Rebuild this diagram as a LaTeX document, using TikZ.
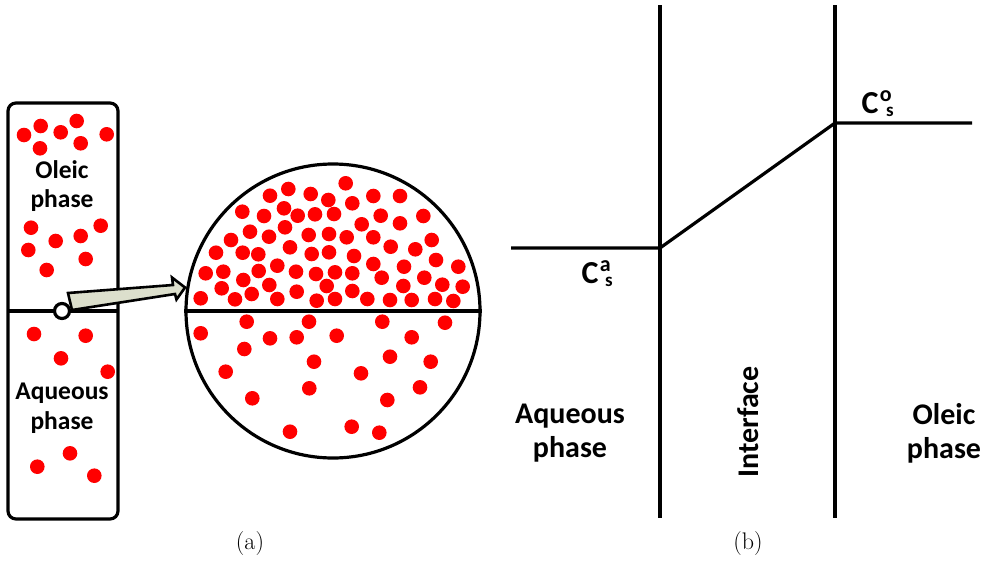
\documentclass[tikz,border=0pt]{standalone}
\usepackage{fontspec}
\setmainfont{Carlito}
\newfontfamily\capfont{Latin Modern Roman}
\usetikzlibrary{positioning}

\definecolor{arrowfill}{RGB}{220,223,204}

\newcommand{\conc}[1]{C\kern0.04em\raisebox{0.36em}{\fontsize{22}{22}\selectfont #1}\kern-0.17em\raisebox{-0.1em}{\fontsize{19}{19}\selectfont s}}

\tikzset{
	bead/.style={fill=red},
	phaselabel/.style={font=\bfseries\fontsize{30}{34}\selectfont, align=center, inner sep=0pt},
	conclabel/.style={font=\bfseries\fontsize{32}{34}\selectfont, inner sep=0pt},
	tubelabel/.style={font=\bfseries\fontsize{25.5}{29.5}\selectfont, align=center, inner sep=0pt},
	caption/.style={font=\capfont\fontsize{24}{26}\selectfont, inner sep=0pt}
}

\begin{document}
\begin{tikzpicture}[x=1pt, y=-1pt, line width=3.2pt]
		\useasboundingbox (0,0) rectangle (983,562);

		% beads in the tube
		\foreach \bx/\by in {24/135, 40.7/126, 60.7/132.3, 76.7/121, 40/148.3, 80.7/143.3, 106.7/134.3,
				31/227.7, 55.7/241, 80.7/236, 100.7/225.7, 28.3/250, 46.7/270, 85.7/259,
				34/334, 85.7/335.7, 61/358.3, 107.7/371.7, 37.3/466.7, 70/453.3, 94.3/475.7}
			\fill[bead] (\bx,\by) circle (7.3pt);

		% beads in the zoomed view
		\foreach \bx/\by in {345.7/183.3, 270/195.7, 288.3/189, 310.7/194, 328.3/200, 352.3/203.3, 373.3/196, 400/196,
				242.3/211.7, 264/216, 284/208.3, 297.7/215.7, 315/214.3, 334/214, 361.7/224.3, 380.7/215.7, 400/223.3, 423.3/216,
				250/231.7, 269/236.7, 285/227.3, 308.7/235, 329/234, 346.7/237.3, 373.3/237.3, 390.7/246.7, 431.7/240,
				231/240, 216/252.7, 242.7/252.7, 258.3/254.3, 290/247.3, 311.7/254, 329/252.3, 354/256, 373.3/264, 415.3/249.3, 436/260,
				205.7/273.3, 223.3/271.7, 243.3/280, 258.7/271, 277.3/265.7, 296/271.7, 316/274, 335/272.3, 352.3/273.3, 381.7/277.7, 404/266.7, 424.3/277.7, 458.3/266.7,
				221.7/288.3, 251.7/294, 269.3/285, 296.7/291.7, 326.7/286, 352.3/291, 403.3/286, 442.3/284.7, 462.7/286.7,
				200.7/298.3, 235/299.3, 277.3/299, 316.7/300.7, 335/299, 367.3/299, 390/300, 411.7/300, 435/299, 453.3/301,
				246.7/321.7, 309/321.7, 382.3/321.7, 445/322.7, 200.7/333.3, 270/338.3, 296.7/337.3, 336.7/335.7, 411.7/337.3,
				244.3/349, 314/361.7, 390/356.7, 430.7/361.7, 225.7/371.7, 361/373.3,
				252.3/398.3, 309.3/388.3, 387.3/400, 420/387.3, 290/431.7, 351.7/426.7, 379.3/432.7}
			\fill[bead] (\bx,\by) circle (7.3pt);

		% (a) tube and zoomed view
		\draw[rounded corners=8pt] (8,103) rectangle (118,519);
		\coordinate (tubeW) at (8,311);
		\coordinate (tubeE) at (118,311);
		\draw (tubeW) -- (tubeE);
		\node[tubelabel] (tubeoil) at (62,186) {Oleic\\phase};
		\node[tubelabel] (tubeaq) at (62,408) {Aqueous\\phase};

		\node[circle, draw, minimum size=294pt, inner sep=0pt] (lens) at (333,311) {};
		\draw (lens.west) -- (lens.east);

		\draw[line width=2.6pt, fill=arrowfill, line join=miter]
			(68,293) -- (173,285) -- (172,277.5) -- (185,287.5) -- (176.5,299.5) -- (175,294) -- (72,310) -- cycle;
		\node[circle, draw, fill=white, minimum size=15pt, inner sep=0pt] (spot) at (62,311) {};

		\node[caption] (capa) at (250,544) {(a)};

		% (b) concentration profile
		\coordinate (ifLtop) at (660,5);
		\coordinate (ifLbot) at (660,518);
		\coordinate (ifRtop) at (835,5);
		\coordinate (ifRbot) at (835,518);
		\draw (ifLtop) -- (ifLbot);
		\draw (ifRtop) -- (ifRbot);

		\coordinate (aqend) at (511,248);
		\coordinate (kinkaq) at (660,248);
		\coordinate (kinkoil) at (835,123);
		\coordinate (oilend) at (972,123);
		\draw[line join=round] (aqend) -- (kinkaq) -- (kinkoil) -- (oilend);

		\node[conclabel, anchor=base west] (casub) at (580,283) {\conc{a}};
		\node[conclabel, anchor=base west] (cosub) at (860,113) {\conc{o}};

		\node[phaselabel] (aqlabel) at (570,433) {Aqueous\\phase};
		\node[phaselabel, rotate=90] (iflabel) at (748,422) {Interface};
		\node[phaselabel] (oillabel) at (944,433) {Oleic\\phase};

		\node[caption] (capb) at (748,544) {(b)};

	\end{tikzpicture}
\end{document}
